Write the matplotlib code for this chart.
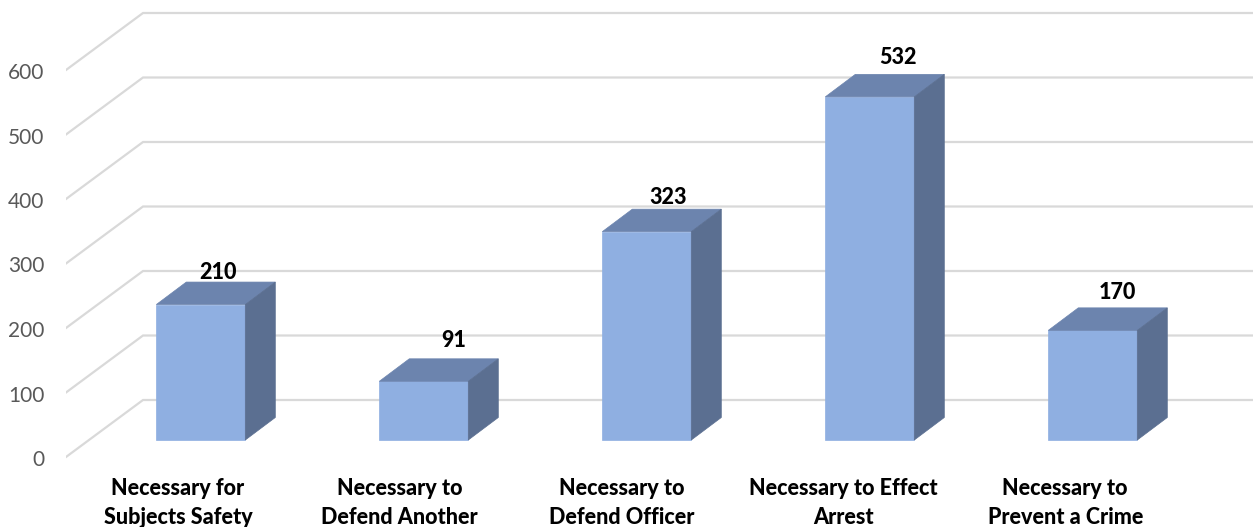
import matplotlib
matplotlib.use("Agg")
import matplotlib.pyplot as plt
from matplotlib.transforms import ScaledTranslation

categories = [
    "Necessary for\nSubjects Safety",
    "Necessary to\nDefend Another",
    "Necessary to\nDefend Officer",
    "Necessary to Effect\nArrest",
    "Necessary to\nPrevent a Crime",
]
values = [210, 91, 323, 532, 170]
grid_values = [0, 100, 200, 300, 400, 500, 600]

# pixel layout of the plot area
W, H = 1253, 527
AX_LEFT, AX_BOTTOM_PX = 66, 465
BAR_X0, BAR_STEP = 200.8, 223     # first bar centre and spacing, px
BASE_PX, PX_PER_UNIT = 440, 0.645 # bar base row and vertical scale

# 3D projection offsets, expressed in data units
bar_width = 89 / BAR_STEP
bar_dx, bar_dy = 30 / BAR_STEP, 22.5 / PX_PER_UNIT
wall_dx = 77 / BAR_STEP
floor_front = -17 / PX_PER_UNIT
wall_back = 40 / PX_PER_UNIT

# category labels follow the floor's front edge, left of the bars
category_x0, category_step = 178, 221.8

# label nudges in pixels from the bar's front-centre top
label_dx = [17, 30, 21, 28, 25]
label_dy = [32, 41, 34, 39, 38]

FRONT, TOP, SIDE = "#8FAFE1", "#6C84AE", "#5B6F91"
GRID = "#D9D9D9"
TICK = "#595959"

plt.rcParams["font.family"] = ["Lato", "DejaVu Sans"]

fig = plt.figure(figsize=(W / 100, H / 100), dpi=100)
ax = fig.add_axes([AX_LEFT / W, (H - AX_BOTTOM_PX) / H, (W - AX_LEFT) / W, AX_BOTTOM_PX / H])
ax.set_xlim((AX_LEFT - BAR_X0) / BAR_STEP, (W - BAR_X0) / BAR_STEP)
ax.set_ylim((BASE_PX - AX_BOTTOM_PX) / PX_PER_UNIT, BASE_PX / PX_PER_UNIT)
for s in ax.spines.values():
    s.set_visible(False)

# floor edge and back wall gridlines
x_front, x_back, x_end = ax.get_xlim()[0], ax.get_xlim()[0] + wall_dx, ax.get_xlim()[1]
for g in grid_values:
    ax.plot([x_front, x_back, x_end],
            [g + floor_front, g + wall_back, g + wall_back],
            color=GRID, lw=1.6, solid_joinstyle="miter", zorder=1)

# bars as three projected faces
half = bar_width / 2
for i, v in enumerate(values):
    l, r = i - half, i + half
    ax.fill([l, r, r, l], [0, 0, v, v], color=FRONT, lw=0.5, zorder=3)
    ax.fill([l, r, r + bar_dx, l + bar_dx], [v, v, v + bar_dy, v + bar_dy],
            color=TOP, lw=0.5, zorder=3)
    ax.fill([r, r + bar_dx, r + bar_dx, r], [0, bar_dy, v + bar_dy, v],
            color=SIDE, lw=0.5, zorder=3)
    ax.annotate(str(v), (i, v), xytext=(label_dx[i] * 0.72, label_dy[i] * 0.72),
                textcoords="offset points", ha="center", va="center",
                fontsize=15.5, fontweight=900, color="black", zorder=4)

ax.set_yticks([g + floor_front for g in grid_values], [str(g) for g in grid_values])
category_ticks = [(category_x0 + category_step * i - BAR_X0) / BAR_STEP for i in range(len(categories))]
ax.set_xticks(category_ticks, categories)
ax.tick_params(axis="y", length=0, pad=15.5, labelsize=15, labelcolor=TICK)
ax.tick_params(axis="x", length=0, pad=9.5, labelsize=15.5, labelcolor="black")
for t in ax.get_yticklabels():
    t.set_transform(t.get_transform() + ScaledTranslation(0, -1 / 100, fig.dpi_scale_trans))
for t in ax.get_xticklabels():
    t.set_fontweight(900)
    t.set_linespacing(1.46)

fig.savefig("out.png", dpi=100)
